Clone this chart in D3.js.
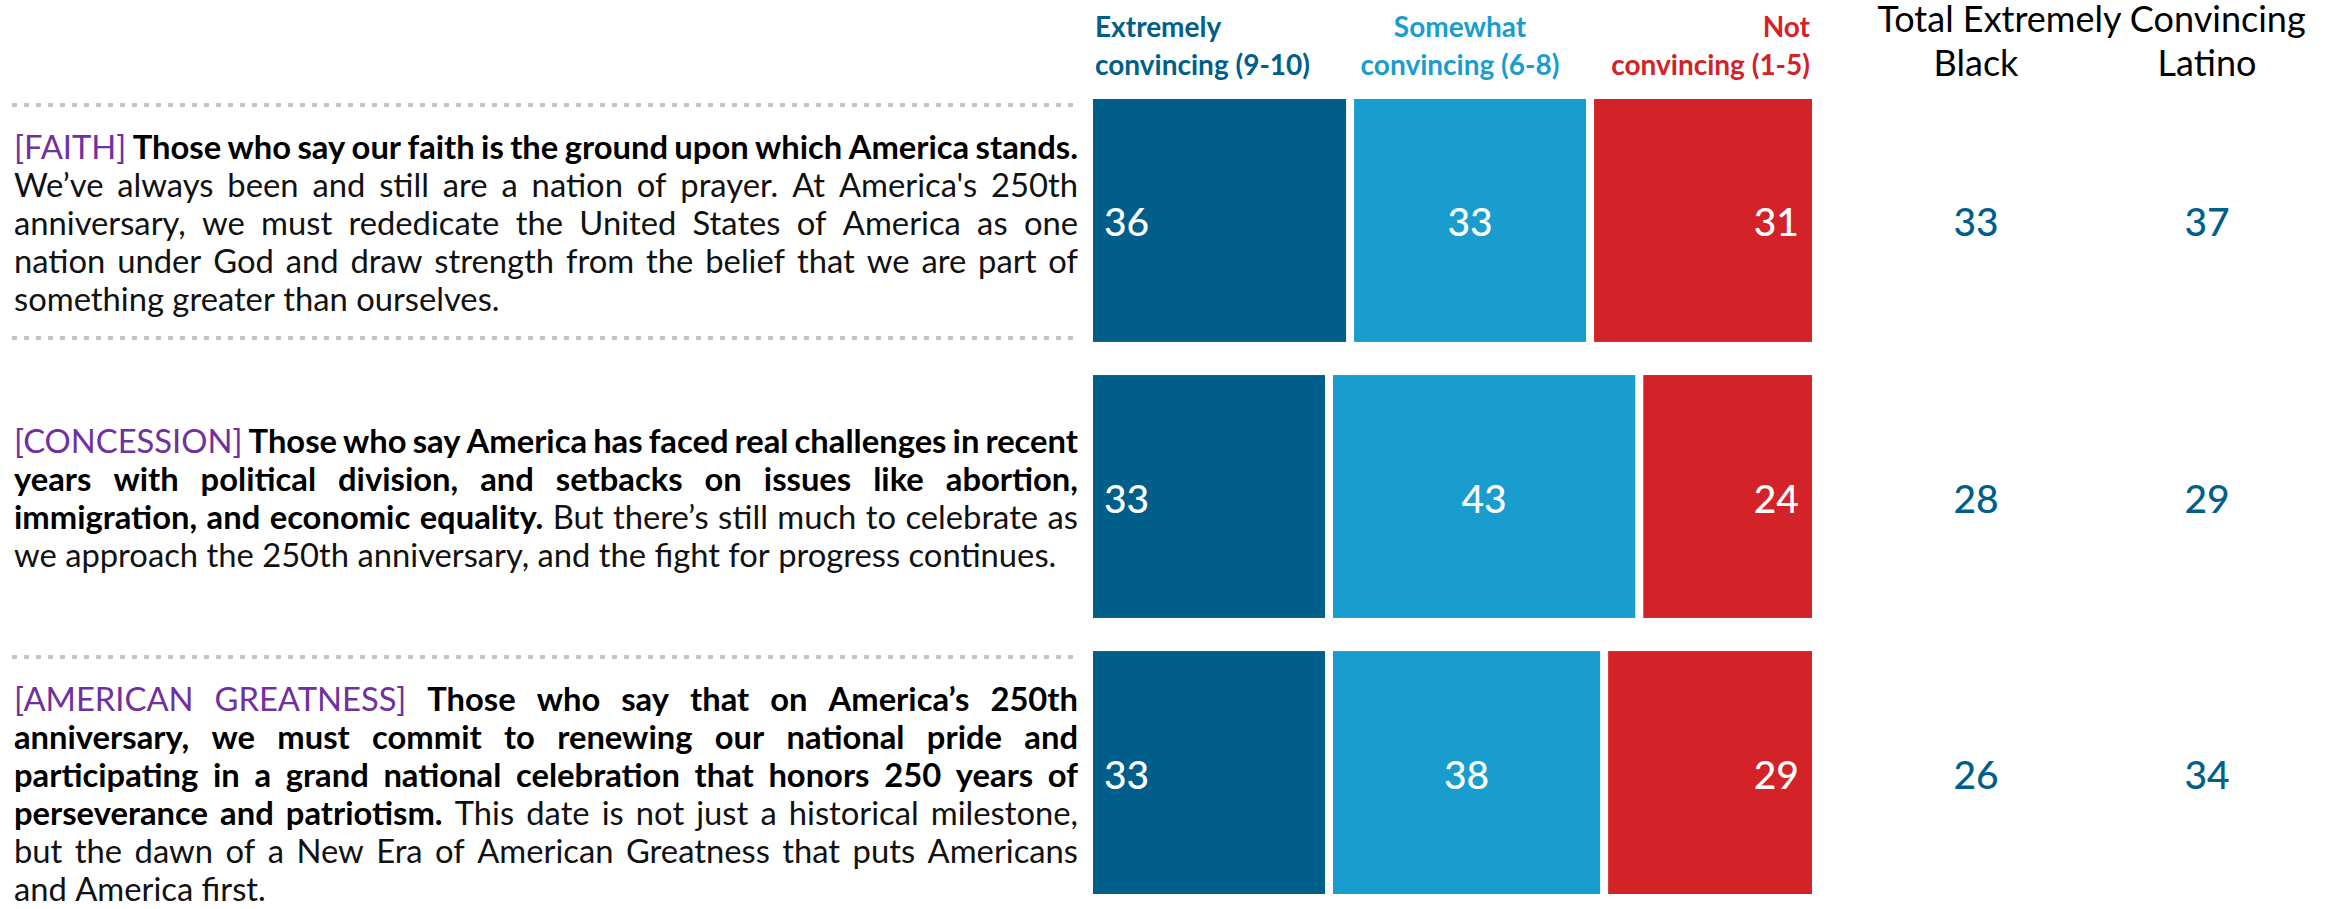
<!DOCTYPE html>
<html>
<head>
<meta charset="utf-8">
<script src="https://cdn.jsdelivr.net/npm/d3@7"></script>
<style>
  html, body { margin: 0; padding: 0; background: #fff; }
  svg { display: block; font-family: Lato, "Noto Sans", sans-serif; }
</style>
</head>
<body>
<svg id="chart" width="2344" height="909"></svg>
<script>
// ---- data ----
var messages = ['FAITH', 'CONCESSION', 'AMERICAN GREATNESS'];
var extremely = [36, 33, 33];
var somewhat = [33, 43, 38];
var notConvincing = [31, 24, 29];
var totalBlack = [33, 28, 26];
var totalLatino = [37, 29, 34];
var groups = ['Black', 'Latino'];
var seriesLabels = [['Extremely', 'convincing (9-10)'], ['Somewhat', 'convincing (6-8)'], ['Not', 'convincing (1-5)']];
var totalTitle = 'Total Extremely Convincing';

// statement text, line breaks as in the deck (t = tag, b = bold, r = regular)
var faithLines = [
  [['t', '[FAITH]'], ['b', 'Those who say our faith is the ground upon which America stands.']],
  [['r', 'We\u2019ve always been and still are a nation of prayer. At America\'s 250th']],
  [['r', 'anniversary, we must rededicate the United States of America as one']],
  [['r', 'nation under God and draw strength from the belief that we are part of']],
  [['r', 'something greater than ourselves.']]
];
var concessionLines = [
  [['t', '[CONCESSION]'], ['b', 'Those who say America has faced real challenges in recent']],
  [['b', 'years with political division, and setbacks on issues like abortion,']],
  [['b', 'immigration, and economic equality.'], ['r', 'But there\u2019s still much to celebrate as']],
  [['r', 'we approach the 250th anniversary, and the fight for progress continues.']]
];
var greatnessLines = [
  [['t', '[AMERICAN GREATNESS]'], ['b', 'Those who say that on America\u2019s 250th']],
  [['b', 'anniversary, we must commit to renewing our national pride and']],
  [['b', 'participating in a grand national celebration that honors 250 years of']],
  [['b', 'perseverance and patriotism.'], ['r', 'This date is not just a historical milestone,']],
  [['r', 'but the dawn of a New Era of American Greatness that puts Americans']],
  [['r', 'and America first.']]
];
var statements = [faithLines, concessionLines, greatnessLines];

// ---- layout ----
var colors = ['#005E8A', '#199DCE', '#D32228'];
var tagColor = '#7030A0';
var barLeft = 1093, barSpan = 703, barGap = 8;
var textLeft = 14, textRight = 1078, lineH = 38;
var textShift = [15, 13, 33];
var rules = [[0, 'top'], [0, 'bottom'], [2, 'top']];

var svg = d3.select('#chart');

var y = d3.scaleBand()
  .domain(messages)
  .range([99, 894])
  .paddingInner(0.12);

var x = d3.scaleLinear()
  .domain([0, 100])
  .range([0, barSpan]);

var xGroup = d3.scalePoint()
  .domain(groups)
  .range([1976, 2207]);

// stacked bars
var rows = messages.map(function (m, i) {
  return { key: m, vals: [extremely[i], somewhat[i], notConvincing[i]] };
});

rows.forEach(function (r) {
  var cum = 0;
  var segs = r.vals.map(function (v, j) {
    var s = { v: v, j: j, x: barLeft + x(cum) + j * barGap, w: x(v) };
    cum += v;
    return s;
  });
  var g = svg.append('g');
  g.selectAll('rect')
    .data(segs)
    .enter().append('rect')
    .attr('x', function (d) { return d.x; })
    .attr('y', y(r.key))
    .attr('width', function (d) { return d.w; })
    .attr('height', y.bandwidth())
    .attr('fill', function (d) { return colors[d.j]; });

  g.selectAll('text')
    .data(segs)
    .enter().append('text')
    .attr('x', function (d) {
      if (d.j === 0) return d.x + 11;
      if (d.j === 1) return d.x + d.w / 2;
      return d.x + d.w - 13;
    })
    .attr('y', y(r.key) + y.bandwidth() / 2 + 16)
    .attr('text-anchor', function (d) { return ['start', 'middle', 'end'][d.j]; })
    .attr('fill', '#fff')
    .style('font-size', '39px')
    .style('font-weight', 500)
    .text(function (d) { return d.v; });
});

// series headers
var headX = [barLeft + 2, 1460, barLeft + barSpan + 2 * barGap - 2];
seriesLabels.forEach(function (lab, j) {
  var t = svg.append('text')
    .attr('text-anchor', ['start', 'middle', 'end'][j])
    .attr('fill', colors[j])
    .style('font-size', '28px')
    .style('font-weight', 700);
  lab.forEach(function (s, k) {
    t.append('tspan').attr('x', headX[j]).attr('y', 37 + k * 38).text(s);
  });
});

// total extremely convincing columns
svg.append('text')
  .attr('x', (xGroup('Black') + xGroup('Latino')) / 2)
  .attr('y', 32)
  .attr('text-anchor', 'middle')
  .style('font-size', '36px')
  .text(totalTitle);

svg.selectAll('.grp')
  .data(groups)
  .enter().append('text')
  .attr('class', 'grp')
  .attr('x', function (d) { return xGroup(d); })
  .attr('y', 76)
  .attr('text-anchor', 'middle')
  .style('font-size', '36px')
  .text(function (d) { return d; });

messages.forEach(function (m, i) {
  [totalBlack[i], totalLatino[i]].forEach(function (v, k) {
    svg.append('text')
      .attr('x', xGroup(groups[k]))
      .attr('y', y(m) + y.bandwidth() / 2 + 16)
      .attr('text-anchor', 'middle')
      .attr('fill', colors[0])
      .style('font-size', '39px')
      .style('font-weight', 500)
      .text(v);
  });
});

// dotted rules
rules.forEach(function (r) {
  var yy = r[1] === 'top' ? y(messages[r[0]]) + 6 : y(messages[r[0]]) + y.bandwidth() - 4;
  svg.append('line')
    .attr('x1', 12).attr('x2', 1076)
    .attr('y1', yy).attr('y2', yy)
    .attr('stroke', '#C4C4C4')
    .attr('stroke-width', 4)
    .attr('stroke-dasharray', '5,7');
});

// justified statement text
var meas = svg.append('text').attr('x', 0).attr('y', 0).attr('opacity', 0);
function measure(str, weight, size) {
  meas.style('font-size', size + 'px').style('font-weight', weight).text(str);
  return meas.node().getComputedTextLength();
}
var base = measure('we approach the 250th anniversary, and the fight for progress continues.', 400, 100);
var fs = 100 * (1042 / base);
var spaceW = measure('a a', 400, fs) - measure('aa', 400, fs);

function styleOf(k) {
  if (k === 't') return { fill: tagColor, weight: 400 };
  if (k === 'b') return { fill: '#000', weight: 700 };
  return { fill: '#111', weight: 400 };
}

statements.forEach(function (lines, i) {
  var cy = y(messages[i]) + y.bandwidth() / 2;
  var y0 = cy - (lines.length - 1) * lineH / 2 + textShift[i];
  var g = svg.append('g').style('font-size', fs + 'px');
  lines.forEach(function (line, li) {
    var words = [];
    line.forEach(function (seg) {
      seg[1].split(' ').forEach(function (w) {
        var st = styleOf(seg[0]);
        words.push({ w: w, fill: st.fill, weight: st.weight, len: measure(w, st.weight, fs) });
      });
    });
    var total = d3.sum(words, function (d) { return d.len; });
    var last = li === lines.length - 1;
    var gap = last ? spaceW : (textRight - textLeft - total) / (words.length - 1);
    var cx = textLeft;
    words.forEach(function (d) {
      g.append('text')
        .attr('x', cx)
        .attr('y', y0 + li * lineH)
        .attr('fill', d.fill)
        .style('font-weight', d.weight)
        .text(d.w);
      cx += d.len + gap;
    });
  });
});
meas.remove();
</script>
</body>
</html>
